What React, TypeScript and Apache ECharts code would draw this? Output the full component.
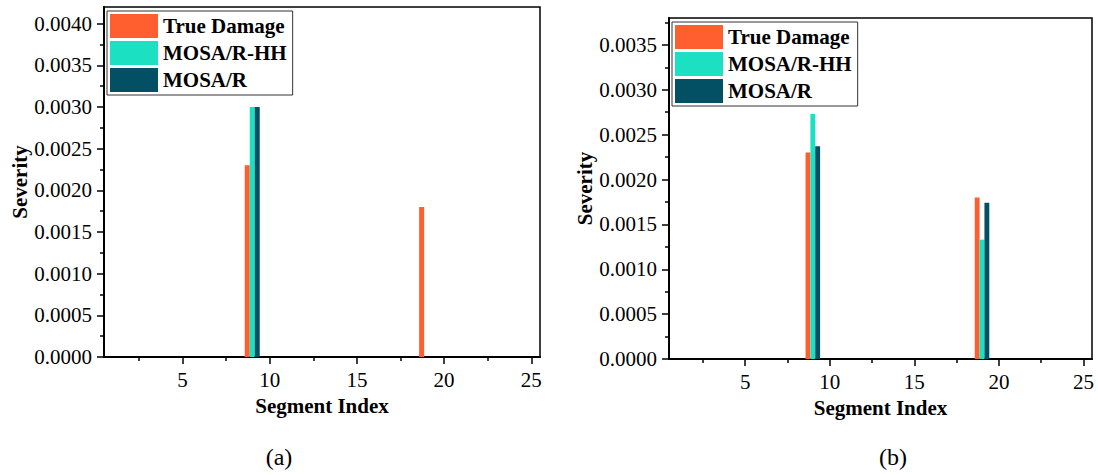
import React, { useEffect, useRef } from 'react';
import * as echarts from 'echarts';

const segments = ['1', '2', '3', '4', '5', '6', '7', '8', '9', '10', '11', '12', '13', '14', '15', '16', '17', '18', '19', '20', '21', '22', '23', '24', '25'];
const seriesNames = ['True Damage', 'MOSA/R-HH', 'MOSA/R'];
const seriesColors = ['#FF5E2E', '#1BE0C1', '#034F63'];

// panel (a)
const trueDamageA = [0, 0, 0, 0, 0, 0, 0, 0, 0.0023, 0, 0, 0, 0, 0, 0, 0, 0, 0, 0.0018, 0, 0, 0, 0, 0, 0];
const mosaHHA = [0, 0, 0, 0, 0, 0, 0, 0, 0.0030, 0, 0, 0, 0, 0, 0, 0, 0, 0, 0, 0, 0, 0, 0, 0, 0];
const mosaRA = [0, 0, 0, 0, 0, 0, 0, 0, 0.0030, 0, 0, 0, 0, 0, 0, 0, 0, 0, 0, 0, 0, 0, 0, 0, 0];

// panel (b)
const trueDamageB = [0, 0, 0, 0, 0, 0, 0, 0, 0.0023, 0, 0, 0, 0, 0, 0, 0, 0, 0, 0.0018, 0, 0, 0, 0, 0, 0];
const mosaHHB = [0, 0, 0, 0, 0, 0, 0, 0, 0.00273, 0, 0, 0, 0, 0, 0, 0, 0, 0, 0.00133, 0, 0, 0, 0, 0, 0];
const mosaRB = [0, 0, 0, 0, 0, 0, 0, 0, 0.00237, 0, 0, 0, 0, 0, 0, 0, 0, 0, 0.00174, 0, 0, 0, 0, 0, 0];

const xLabelStep = 5;
const xMinorTicks = [2.5, 7.5, 12.5, 17.5, 22.5];
const yStep = 0.0005;
const yMajorTicksA = [0, 0.0005, 0.001, 0.0015, 0.002, 0.0025, 0.003, 0.0035, 0.004];
const yMinorTicksA = [0.00025, 0.00075, 0.00125, 0.00175, 0.00225, 0.00275, 0.00325, 0.00375];
const yMajorTicksB = [0, 0.0005, 0.001, 0.0015, 0.002, 0.0025, 0.003, 0.0035];
const yMinorTicksB = [0.00025, 0.00075, 0.00125, 0.00175, 0.00225, 0.00275, 0.00325, 0.00375];
const yMaxA = 0.0042;
const yMaxB = 0.0038;
const captions = ['(a)', '(b)'];
const xAxisName = 'Segment Index';
const yAxisName = 'Severity';

const FONT = 'Liberation Serif';

export default function App() {
  const ref = useRef<HTMLDivElement>(null);

  useEffect(() => {
    if (!ref.current) return;
    const chart = echarts.init(ref.current, undefined, { renderer: 'svg' });

    const panels = [
      { grid: { left: 104, top: 7, width: 436, height: 350 }, yMax: yMaxA, yMajor: yMajorTicksA, yMinor: yMinorTicksA, data: [trueDamageA, mosaHHA, mosaRA], legend: { left: 107, top: 11 }, yNameGap: 74 },
      { grid: { left: 669, top: 18, width: 423, height: 341 }, yMax: yMaxB, yMajor: yMajorTicksB, yMinor: yMinorTicksB, data: [trueDamageB, mosaHHB, mosaRB], legend: { left: 672, top: 22 }, yNameGap: 70 },
    ];

    const grids: any[] = [];
    const xAxes: any[] = [];
    const yAxes: any[] = [];
    const series: any[] = [];
    const legends: any[] = [];
    const showCat = (index: number) => (index + 1) % xLabelStep === 0;

    panels.forEach((p, gi) => {
      grids.push({ ...p.grid, show: true, borderColor: '#000', borderWidth: 1.5, backgroundColor: 'transparent', containLabel: false });
      const xBase = xAxes.length;
      xAxes.push({
        type: 'category', gridIndex: gi, data: segments, boundaryGap: true, position: 'bottom',
        name: xAxisName, nameLocation: 'middle', nameGap: 38,
        nameTextStyle: { fontFamily: FONT, fontWeight: 'bold', fontSize: 21, color: '#000' },
        axisLine: { show: true, onZero: false, lineStyle: { color: '#000', width: 2 } },
        axisTick: { show: true, alignWithLabel: true, interval: showCat, length: 7, inside: false, lineStyle: { color: '#000', width: 1.5 } },
        axisLabel: { show: true, interval: showCat, margin: 12, fontFamily: FONT, fontSize: 21, color: '#000' },
        splitLine: { show: false },
      });
      xAxes.push({
        type: 'value', gridIndex: gi, min: 0.5, max: 25.5, position: 'bottom',
        axisLine: { show: false, onZero: false },
        axisTick: { show: true, customValues: xMinorTicks, length: 4, inside: false, lineStyle: { color: '#000', width: 1.5 } },
        axisLabel: { show: false }, splitLine: { show: false },
      });
      const yBase = yAxes.length;
      yAxes.push({
        type: 'value', gridIndex: gi, min: 0, max: p.yMax, interval: yStep, position: 'left',
        name: yAxisName, nameLocation: 'middle', nameGap: p.yNameGap,
        nameTextStyle: { fontFamily: FONT, fontWeight: 'bold', fontSize: 21, color: '#000' },
        axisLine: { show: true, onZero: false, lineStyle: { color: '#000', width: 2 } },
        axisTick: { show: true, customValues: p.yMajor, length: 7, inside: false, lineStyle: { color: '#000', width: 1.5 } },
        axisLabel: { show: true, showMaxLabel: false, margin: 12, fontFamily: FONT, fontSize: 21, color: '#000', formatter: (v: number) => v.toFixed(4) },
        splitLine: { show: false },
      });
      yAxes.push({
        type: 'value', gridIndex: gi, min: 0, max: p.yMax, position: 'left',
        axisLine: { show: false, onZero: false },
        axisTick: { show: true, customValues: p.yMinor, length: 4, inside: false, lineStyle: { color: '#000', width: 1.5 } },
        axisLabel: { show: false }, splitLine: { show: false },
      });
      seriesNames.forEach((name, si) => {
        series.push({
          type: 'bar', name, xAxisIndex: xBase, yAxisIndex: yBase, data: p.data[si],
          barGap: '0%', barCategoryGap: '14%',
          itemStyle: { color: seriesColors[si] },
        });
      });
      legends.push({
        ...p.legend, orient: 'vertical', data: seriesNames,
        itemWidth: 48, itemHeight: 24, itemGap: 3, padding: [3, 6, 3, 3],
        borderColor: '#333', borderWidth: 1, backgroundColor: '#fff',
        icon: 'rect', selectedMode: false,
        textStyle: { fontFamily: FONT, fontWeight: 'bold', fontSize: 21, color: '#000' },
      });
    });

    chart.setOption({
      animation: false,
      backgroundColor: '#fff',
      color: seriesColors,
      textStyle: { fontFamily: FONT },
      grid: grids,
      xAxis: xAxes,
      yAxis: yAxes,
      series,
      legend: legends,
      graphic: [
        { type: 'text', x: 279, y: 457, style: { text: captions[0], fontFamily: FONT, fontSize: 24, fill: '#000', align: 'center', verticalAlign: 'middle' } },
        { type: 'text', x: 893, y: 457, style: { text: captions[1], fontFamily: FONT, fontSize: 24, fill: '#000', align: 'center', verticalAlign: 'middle' } },
      ],
    });

    return () => chart.dispose();
  }, []);

  return <div ref={ref} style={{ position: 'absolute', left: 0, top: 0, width: 1098, height: 475 }} />;
}
